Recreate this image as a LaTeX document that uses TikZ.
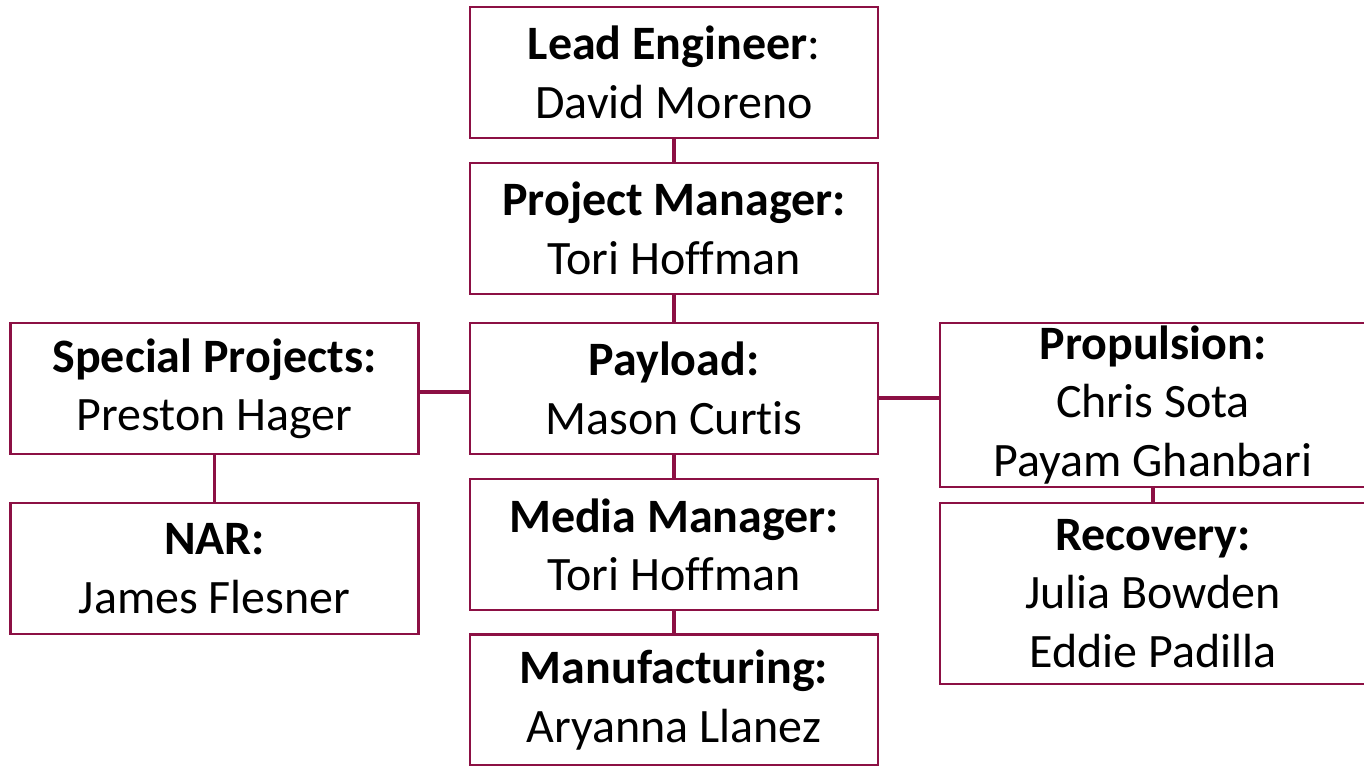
\documentclass[tikz,border=0pt]{standalone}
\usepackage{fontspec}
\setmainfont{Carlito}[Ligatures=NoCommon]
\usepackage{tikz}
\usetikzlibrary{positioning}

\definecolor{maroon}{RGB}{140,16,68}

\begin{document}
\begin{tikzpicture}[
      x=0.02cm, y=-0.02cm,
      role/.style={rectangle, draw=maroon, line width=1.6pt, fill=white, minimum width=8.16cm, minimum height=2.62cm, inner sep=0pt, align=center, font=\fontsize{27.3}{33.2}\selectfont},
      wide/.style={role, minimum width=8.52cm},
      link/.style={draw=maroon, line width=2pt}
    ]
    \useasboundingbox (0,0) rectangle (1364,765);
    % centre column
    \node[role] (lead) at (674,72.5) {\textbf{Lead Engineer}:\\David Moreno};
    \node[role] (pm) at (674,228.5) {\textbf{Project Manager:}\\Tori Hoffman};
    \node[role] (payload) at (674,388.5) {\textbf{Payload:}\\Mason Curtis};
    \node[role] (media) at (674,544.5) {\textbf{Media Manager:}\\Tori Hoffman};
    \node[role] (mfg) at (674,700) {\textbf{Manufacturing:}\\Aryanna Llanez};
    % left column
    \node[role] (special) at (214.5,388.5) {\textbf{Special Projects:}\\Preston Hager};
    \node[role] (nar) at (214.5,568.5) {\textbf{NAR:}\\James Flesner};
    % right column
    \node[wide, minimum height=3.28cm] (prop) at (1153,405) {\textbf{Propulsion:}\\Chris Sota\\Payam Ghanbari};
    \node[wide, minimum height=3.62cm] (recov) at (1153,593.5) {\textbf{Recovery:}\\Julia Bowden\\Eddie Padilla};

    \draw[link] (lead.south) -- (pm.north);
    \draw[link] (pm.south) -- (payload.north);
    \draw[link] (payload.south) -- (media.north);
    \draw[link] (media.south) -- (mfg.north);
    \draw[link] (special.east |- 0,392) -- (payload.west |- 0,392);
    \draw[link] (payload.east |- 0,398) -- (prop.west |- 0,398);
    \draw[link] (special.south) -- (nar.north);
    \draw[link] (prop.south) -- (recov.north);
  \end{tikzpicture}
\end{document}
